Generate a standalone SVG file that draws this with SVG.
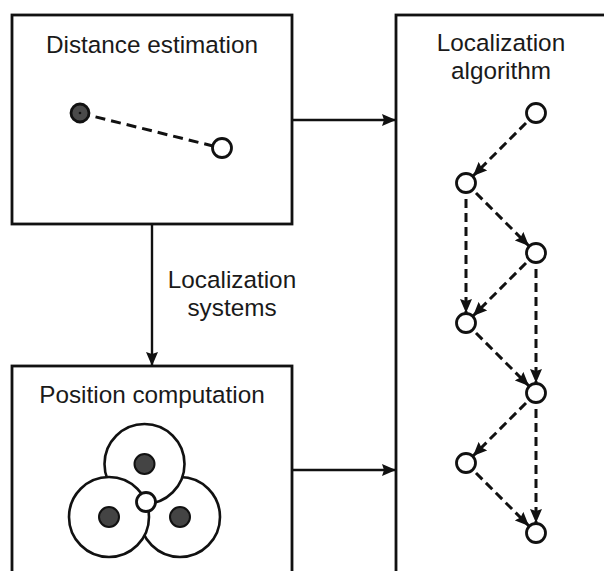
<svg xmlns="http://www.w3.org/2000/svg" width="604" height="571" viewBox="0 0 604 571">
<style>
.box{fill:#fff;stroke:#111;stroke-width:2.8}
.lbl{font-family:"Liberation Sans",Arial,sans-serif;font-size:24.3px;fill:#1a1a1a;text-anchor:middle}
.solid{stroke:#111;stroke-width:2.4;fill:none}
.dash{stroke:#111;stroke-width:3;fill:none;stroke-dasharray:9 5}
.node{fill:#fff;stroke:#111;stroke-width:2.8}
.big{fill:#fff;stroke:#111;stroke-width:2.6}
.dot{fill:#444;stroke:#111;stroke-width:2}
</style>
<defs>
<marker id="ah" markerWidth="14" markerHeight="12" refX="14" refY="6" orient="auto" markerUnits="userSpaceOnUse">
<path d="M0,0 L14,6 L0,12 L2,6 Z" fill="#111"/>
</marker>
</defs>
<rect width="604" height="571" fill="#fff"/>
<g id="distance-estimation">
<rect class="box" x="12" y="15" width="280" height="209"/>
<text class="lbl" x="152" y="53">Distance estimation</text>
<line class="dash" x1="80" y1="113" x2="213" y2="146" style="stroke-dasharray:10 6"/>
<circle cx="80" cy="113" r="9" fill="#4a4a4a" stroke="#111" stroke-width="2.8"/>
<circle cx="80" cy="113" r="1.3" fill="#111"/>
<circle class="node" cx="222" cy="148" r="9.5"/>
</g>
<g id="position-computation">
<rect class="box" x="12" y="366" width="280" height="230"/>
<text class="lbl" x="152" y="403">Position computation</text>
<circle class="big" cx="180" cy="517" r="40"/>
<circle class="big" cx="144.5" cy="464" r="40"/>
<circle class="big" cx="109" cy="517" r="40"/>
<circle class="node" cx="146" cy="502" r="9.5"/>
<circle class="dot" cx="144.5" cy="464" r="10"/>
<circle class="dot" cx="109" cy="517" r="10"/>
<circle class="dot" cx="180" cy="517" r="10"/>
</g>
<g id="localization-algorithm">
<rect class="box" x="396" y="15" width="230" height="580"/>
<text class="lbl" x="501" y="51">Localization</text>
<text class="lbl" x="501" y="79">algorithm</text>
</g>
<g id="connectors">
<line class="solid" x1="292" y1="120" x2="396" y2="120" marker-end="url(#ah)"/>
<line class="solid" x1="292" y1="470" x2="396" y2="470" marker-end="url(#ah)"/>
<line class="solid" x1="152" y1="224" x2="152" y2="366" marker-end="url(#ah)"/>
<text class="lbl" x="232" y="288">Localization</text>
<text class="lbl" x="232" y="316">systems</text>
<line class="dash" x1="526" y1="123" x2="473" y2="176" marker-end="url(#ah)"/>
<line class="dash" x1="476" y1="193" x2="529" y2="246" marker-end="url(#ah)"/>
<line class="dash" x1="466" y1="199" x2="466" y2="313" marker-end="url(#ah)"/>
<line class="dash" x1="526" y1="263" x2="473" y2="316" marker-end="url(#ah)"/>
<line class="dash" x1="536" y1="269" x2="536" y2="383" marker-end="url(#ah)"/>
<line class="dash" x1="476" y1="333" x2="529" y2="386" marker-end="url(#ah)"/>
<line class="dash" x1="526" y1="403" x2="473" y2="456" marker-end="url(#ah)"/>
<line class="dash" x1="536" y1="409" x2="536" y2="523" marker-end="url(#ah)"/>
<line class="dash" x1="476" y1="473" x2="529" y2="526" marker-end="url(#ah)"/>
</g>
<g id="graph-nodes">
<circle id="n1" class="node" cx="536" cy="113" r="9.5"/>
<circle id="n2" class="node" cx="466" cy="183" r="9.5"/>
<circle id="n3" class="node" cx="536" cy="253" r="9.5"/>
<circle id="n4" class="node" cx="466" cy="323" r="9.5"/>
<circle id="n5" class="node" cx="536" cy="393" r="9.5"/>
<circle id="n6" class="node" cx="466" cy="463" r="9.5"/>
<circle id="n7" class="node" cx="536" cy="533" r="9.5"/>
</g>
</svg>
